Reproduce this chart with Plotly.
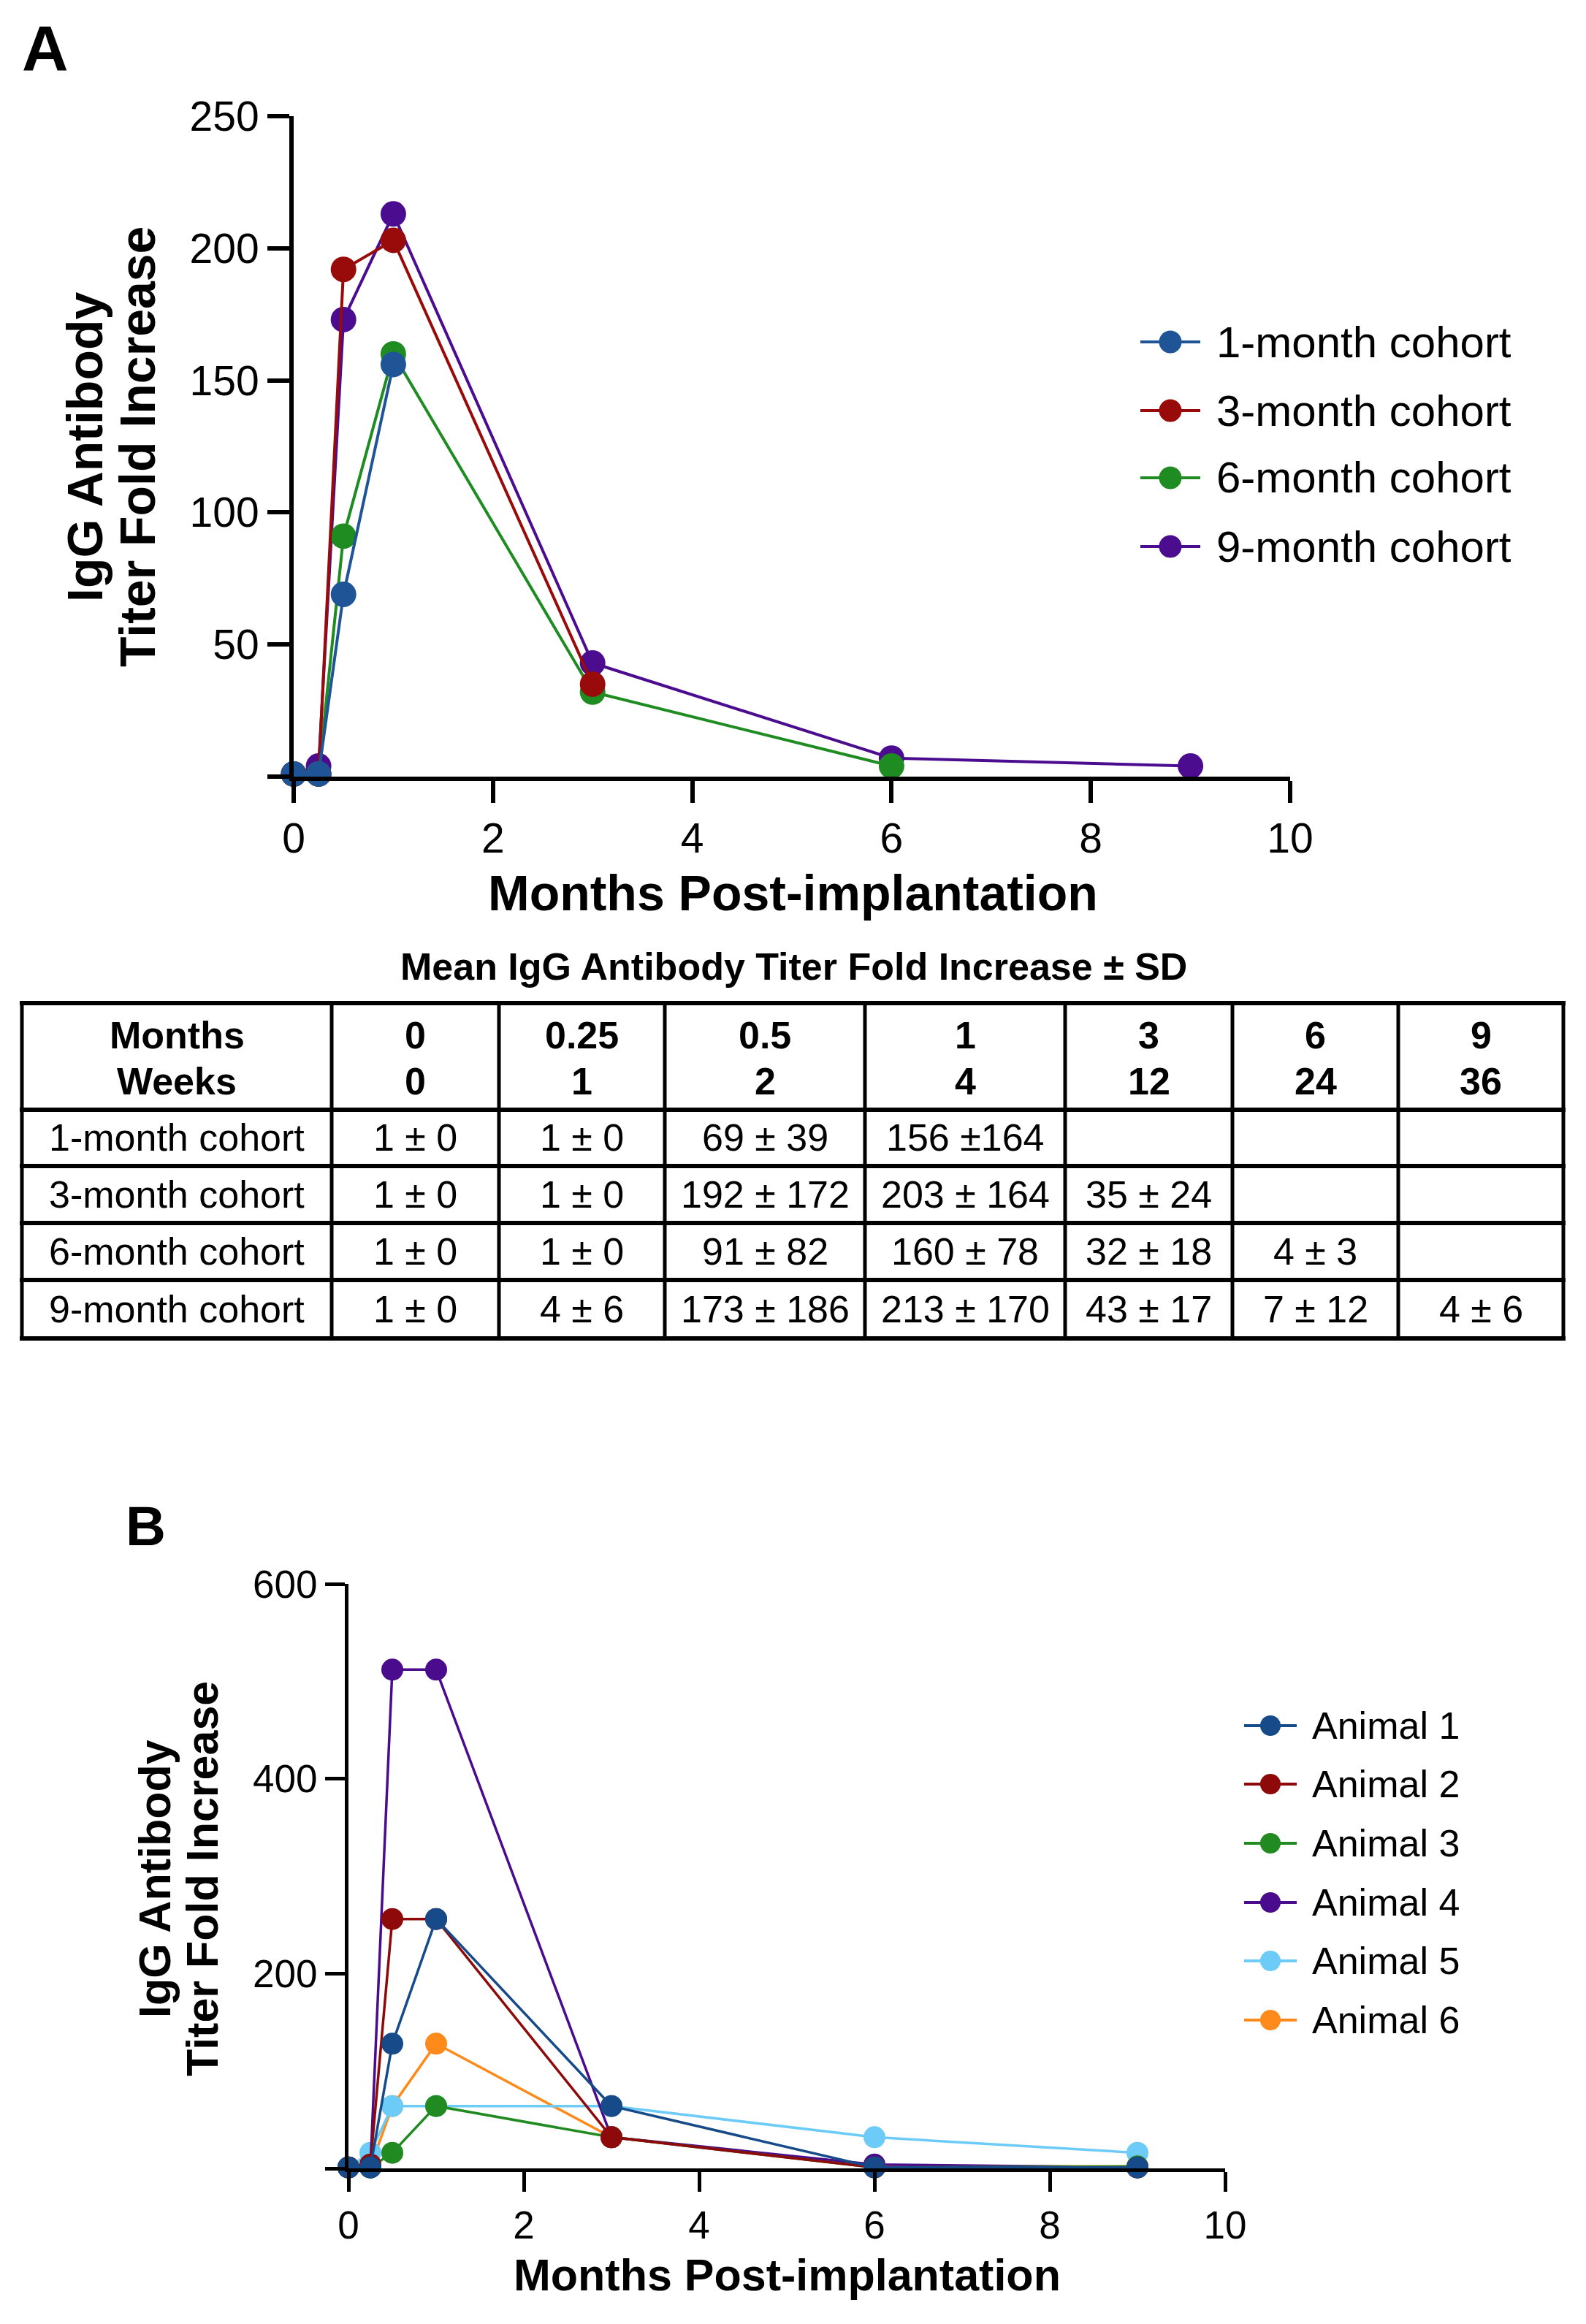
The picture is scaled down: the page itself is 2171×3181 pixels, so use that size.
import plotly.graph_objects as go

W, H = 2171, 3181
def px(p): return p / W
def py(p): return 1 - p / H

# ---------------- Panel A data ----------------
months = [0, 0.25, 0.5, 1, 3, 6, 9]
cohort_names = ["1-month cohort", "3-month cohort", "6-month cohort", "9-month cohort"]
cohort_means = [
    [1, 1, 69, 156],
    [1, 1, 192, 203, 35],
    [1, 1, 91, 160, 32, 4],
    [1, 4, 173, 213, 43, 7, 4],
]
cohort_sd = [
    [0, 0, 39, 164],
    [0, 0, 172, 164, 24],
    [0, 0, 82, 78, 18, 3],
    [0, 6, 186, 170, 17, 12, 6],
]
cohort_colors = ["#1f5496", "#990b0b", "#1f8c22", "#4b0c90"]

# ---------------- Table ----------------
table_months = ["0", "0.25", "0.5", "1", "3", "6", "9"]
table_weeks = ["0", "1", "2", "4", "12", "24", "36"]

# ---------------- Panel B data ----------------
animal_names = ["Animal 1", "Animal 2", "Animal 3", "Animal 4", "Animal 5", "Animal 6"]
animal_values = [
    [1, 1, 128, 256, 64, 1, 1],
    [1, 4, 256, 256, 32, 1, 1],
    [1, 1, 16, 64, 32, 1, 2],
    [1, 1, 512, 512, 32, 4, 1],
    [1, 16, 64, 64, 64, 32, 16],
    [1, 1, 64, 128, 32, 2, 2],
]
animal_colors = ["#174a88", "#8e0a0a", "#218a21", "#4a0b8c", "#6cccf7", "#ff8a1c"]

FONT = "Liberation Sans, Arial, sans-serif"

fig = go.Figure()

# Panel A traces (reverse order so 1-month is drawn on top)
for i in reversed(range(len(cohort_names))):
    n = len(cohort_means[i])
    fig.add_trace(go.Scatter(
        x=months[:n], y=cohort_means[i], mode="lines+markers",
        name=cohort_names[i], showlegend=False,
        line=dict(color=cohort_colors[i], width=4),
        marker=dict(color=cohort_colors[i], size=35),
        cliponaxis=False, xaxis="x", yaxis="y",
    ))

# Panel B traces
for i in reversed(range(len(animal_names))):
    fig.add_trace(go.Scatter(
        x=months, y=animal_values[i], mode="lines+markers",
        name=animal_names[i], showlegend=False,
        line=dict(color=animal_colors[i], width=3.5),
        marker=dict(color=animal_colors[i], size=30),
        cliponaxis=False, xaxis="x2", yaxis="y2",
    ))

axis_common = dict(showline=True, linecolor="black", ticks="outside",
                   tickcolor="black", showgrid=False, zeroline=False,
                   automargin=False)

fig.update_layout(
    width=W, height=H, margin=dict(l=0, r=0, t=0, b=0, autoexpand=False),
    paper_bgcolor="white", plot_bgcolor="white",
    font=dict(family=FONT, color="black"),
    showlegend=False,
    xaxis=dict(domain=[px(402), px(1766)], range=[0, 10], anchor="y",
               tickvals=[0, 2, 4, 6, 8, 10], linewidth=6, tickwidth=6, ticklen=30,
               tickfont=dict(size=57), **axis_common),
    yaxis=dict(domain=[py(1063), py(159)], range=[0, 250], anchor="x",
               tickvals=[0, 50, 100, 150, 200, 250],
               ticktext=["", "50", "100", "150", "200", "250"],
               linewidth=6, tickwidth=6, ticklen=30,
               tickfont=dict(size=57), **axis_common),
    xaxis2=dict(domain=[px(477), px(1677)], range=[0, 10], anchor="y2",
                tickvals=[0, 2, 4, 6, 8, 10], linewidth=5, tickwidth=5, ticklen=27,
                tickfont=dict(size=53), **axis_common),
    yaxis2=dict(domain=[py(2968), py(2168)], range=[0, 600], anchor="x2",
                tickvals=[0, 200, 400, 600], ticktext=["", "200", "400", "600"],
                linewidth=5, tickwidth=5, ticklen=27,
                tickfont=dict(size=53), **axis_common),
)

def ann(text, x, y, size, angle=0, bold=True, xanchor="center"):
    fig.add_annotation(text=text, x=px(x), y=py(y), xref="paper", yref="paper",
                       showarrow=False, textangle=angle, xanchor=xanchor, yanchor="middle",
                       font=dict(size=size, family=FONT, color="black",
                                 weight="bold" if bold else "normal"))

def hline(x0, x1, y, w, color="black"):
    fig.add_shape(type="line", xref="paper", yref="paper",
                  x0=px(x0), x1=px(x1), y0=py(y), y1=py(y),
                  line=dict(color=color, width=w))

def vline(x, y0, y1, w, color="black"):
    fig.add_shape(type="line", xref="paper", yref="paper",
                  x0=px(x), x1=px(x), y0=py(y0), y1=py(y1),
                  line=dict(color=color, width=w))

def dot(cx, cy, d, color):
    r = d / 2
    fig.add_shape(type="circle", xref="paper", yref="paper",
                  x0=px(cx - r), x1=px(cx + r), y0=py(cy + r), y1=py(cy - r),
                  fillcolor=color, line=dict(color=color, width=0))

# Panel labels and axis titles
ann("A", 62, 65, 88)
ann("IgG Antibody", 116, 612, 68, -90)
ann("Titer Fold Increase", 188, 612, 68, -90)
ann("Months Post-implantation", 1085, 1222, 68)
ann("B", 199, 2088, 76)
ann("IgG Antibody", 212, 2572, 61, -90)
ann("Titer Fold Increase", 277, 2572, 61, -90)
ann("Months Post-implantation", 1077, 3114, 61)

# Legend A (manual, to match the large symbols)
legA_rows = [468, 562, 654, 748]
for i, name in enumerate(cohort_names):
    y = legA_rows[i]
    hline(1561, 1643, y, 4, cohort_colors[i])
    dot(1602, y, 31, cohort_colors[i])
    ann(name, 1663, y, 60, bold=False, xanchor="left")

# Legend B
legB_rows = [2362, 2442, 2523, 2604, 2684, 2765]
for i, name in enumerate(animal_names):
    y = legB_rows[i]
    hline(1703, 1775, y, 4, animal_colors[i])
    dot(1739, y, 28, animal_colors[i])
    ann(name, 1794, y, 52, bold=False, xanchor="left")

# Table
ann("Mean IgG Antibody Titer Fold Increase ± SD", 1086, 1323, 52)
col_edges = [30, 454, 683, 910, 1184, 1458, 1687, 1914, 2140]
row_edges = [1373, 1519, 1596, 1674, 1752, 1832]
for ye in row_edges:
    hline(col_edges[0] - 3, col_edges[-1] + 3, ye, 6)
for xe in col_edges:
    vline(xe, row_edges[0], row_edges[-1], 5)

def cell_text(c):
    return (col_edges[c] + col_edges[c + 1]) / 2

# header
ann("Months", cell_text(0), 1417, 52)
ann("Weeks", cell_text(0), 1480, 52)
for j in range(7):
    ann(table_months[j], cell_text(j + 1), 1417, 52)
    ann(table_weeks[j], cell_text(j + 1), 1480, 52)

row_centers = [1557, 1635, 1713, 1792]
for i in range(4):
    ann(cohort_names[i], cell_text(0), row_centers[i], 52, bold=False)
    for j in range(len(cohort_means[i])):
        sep = " ±" if (i == 0 and j == 3) else " ± "
        txt = f"{cohort_means[i][j]}{sep}{cohort_sd[i][j]}"
        ann(txt, cell_text(j + 1), row_centers[i], 52, bold=False)

fig.write_html(
    "out.html",
    config={"displayModeBar": False},
    post_script="document.body.style.margin='0';document.body.style.padding='0';"
                "document.body.style.overflow='hidden';",
)
